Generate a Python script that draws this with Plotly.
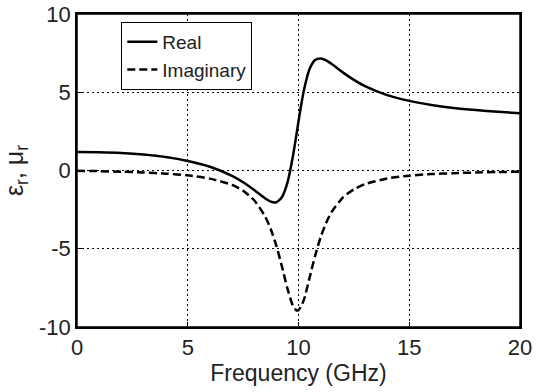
import plotly.graph_objects as go

freq = [0, 1, 2, 3, 4, 5, 6, 7, 7.5, 8, 8.5, 8.75, 9, 9.25, 9.5, 9.75, 9.9, 10, 10.1,
        10.25, 10.5, 10.75, 11, 11.25, 11.5, 12, 12.5, 13, 14, 15, 16, 17, 18, 19, 20]
real_part = [1.19, 1.17, 1.12, 1.02, 0.86, 0.61, 0.24, -0.34, -0.75, -1.25, -1.79, -1.99,
             -2.03, -1.71, -0.78, 0.93, 2.23, 3.14, 4.01, 5.17, 6.49, 7.06, 7.15, 7.03,
             6.80, 6.27, 5.79, 5.39, 4.82, 4.45, 4.19, 4.00, 3.86, 3.75, 3.66]
imag_part = [-0.02, -0.04, -0.08, -0.13, -0.20, -0.31, -0.52, -0.92, -1.29, -1.90, -2.95,
             -3.75, -4.81, -6.12, -7.54, -8.65, -8.93, -8.92, -8.72, -8.24, -6.85, -5.45,
             -4.26, -3.34, -2.64, -1.73, -1.20, -0.87, -0.51, -0.33, -0.23, -0.17, -0.13,
             -0.10, -0.08]
x_ticks = [0, 5, 10, 15, 20]
y_ticks = [-10, -5, 0, 5, 10]

font_family = "Liberation Sans, Arial, sans-serif"

fig = go.Figure()
fig.add_trace(go.Scatter(x=freq, y=real_part, mode="lines", name="Real",
                         line=dict(color="black", width=2.5, shape="spline", smoothing=0.6)))
fig.add_trace(go.Scatter(x=freq, y=imag_part, mode="lines", name="Imaginary",
                         line=dict(color="black", width=2.5, dash="8px,4px", shape="spline", smoothing=0.6)))

axis_common = dict(
    showline=True, linecolor="black", linewidth=1.5, mirror=True,
    ticks="inside", ticklen=5, tickcolor="black", tickwidth=1,
    showgrid=True, gridcolor="black", gridwidth=1, griddash="2px,3px",
    zeroline=False, automargin=False,
    tickfont=dict(family=font_family, size=22, color="#222"),
)

fig.update_xaxes(range=[0, 20], tickvals=x_ticks, ticktext=[str(v) for v in x_ticks],
                 title=dict(text="Frequency (GHz)", standoff=0,
                            font=dict(family=font_family, size=23, color="#222")),
                 **axis_common)
fig.update_yaxes(range=[-10, 10], tickvals=y_ticks, ticktext=[str(v) for v in y_ticks],
                 title=dict(text="ε<sub>r</sub>, μ<sub>r</sub>", standoff=10,
                            font=dict(family=font_family, size=25, color="#222")),
                 **axis_common)

fig.update_layout(
    width=537, height=392,
    margin=dict(l=77, r=17, t=14, b=65, autoexpand=False),
    plot_bgcolor="white", paper_bgcolor="white",
    legend=dict(x=0.1, y=0.975, xanchor="left", yanchor="top",
                bgcolor="white", bordercolor="black", borderwidth=1,
                font=dict(family=font_family, size=19, color="#222"),
                tracegroupgap=0, itemwidth=30),
    showlegend=True,
    shapes=[dict(type="rect", xref="paper", yref="paper", x0=0, y0=0, x1=1, y1=1,
                 line=dict(color="black", width=1.5), fillcolor="rgba(0,0,0,0)", layer="above")],
)

fig.write_html("out.html", config={"displayModeBar": False},
               post_script="document.body.style.margin='0';")
